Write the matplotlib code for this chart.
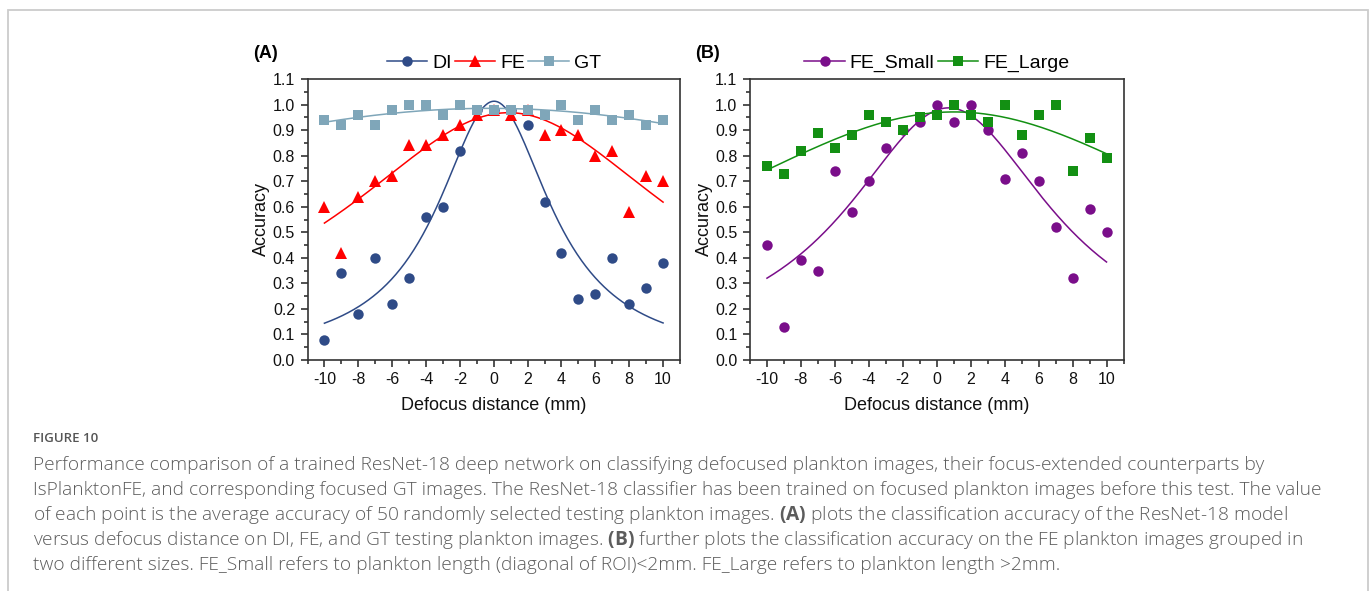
import numpy as np
import matplotlib.pyplot as plt
from matplotlib.lines import Line2D
from matplotlib.patches import Rectangle

plt.rcParams['font.family'] = ['Liberation Sans', 'DejaVu Sans']
plt.rcParams['axes.unicode_minus'] = False
plt.rcParams['mathtext.fontset'] = 'custom'
plt.rcParams['mathtext.rm'] = 'Open Sans'
plt.rcParams['mathtext.bf'] = 'Open Sans:bold'

# defocus distance (mm)
x = np.arange(-10, 11)

# panel A
di = [0.08, 0.34, 0.18, 0.40, 0.22, 0.32, 0.56, 0.60, 0.82, 0.98, 0.98,
      0.98, 0.92, 0.62, 0.42, 0.24, 0.26, 0.40, 0.22, 0.28, 0.38]
fe = [0.60, 0.42, 0.64, 0.70, 0.72, 0.84, 0.84, 0.88, 0.92, 0.96, 0.98,
      0.96, 0.98, 0.88, 0.90, 0.88, 0.80, 0.82, 0.58, 0.72, 0.70]
gt = [0.94, 0.92, 0.96, 0.92, 0.98, 1.00, 1.00, 0.96, 1.00, 0.98, 0.98,
      0.98, 0.98, 0.96, 1.00, 0.94, 0.98, 0.94, 0.96, 0.92, 0.94]

# panel B
fe_small = [0.45, 0.13, 0.39, 0.35, 0.74, 0.58, 0.70, 0.83, 0.90, 0.93, 1.00,
            0.93, 1.00, 0.90, 0.71, 0.81, 0.70, 0.52, 0.32, 0.59, 0.50]
fe_large = [0.76, 0.73, 0.82, 0.89, 0.83, 0.88, 0.96, 0.93, 0.90, 0.95, 0.96,
            1.00, 0.96, 0.93, 1.00, 0.88, 0.96, 1.00, 0.74, 0.87, 0.79]

caption_head = 'FIGURE 10'
caption = [
    'Performance comparison of a trained ResNet-18 deep network on classifying defocused plankton images, their focus-extended counterparts by',
    'IsPlanktonFE, and corresponding focused GT images. The ResNet-18 classifier has been trained on focused plankton images before this test. The value',
    r'of each point is the average accuracy of 50 randomly selected testing plankton images. $\mathbf{(A)}$ plots the classification accuracy of the ResNet-18 model',
    r'versus defocus distance on DI, FE, and GT testing plankton images. $\mathbf{(B)}$ further plots the classification accuracy on the FE plankton images grouped in',
    'two different sizes. FE_Small refers to plankton length (diagonal of ROI)<2mm. FE_Large refers to plankton length >2mm.',
]


def lorentz_fit(xs, ys):
    # least squares fit of y = A / (1 + ((x - xc) / g)^2)
    xs = np.asarray(xs, float)
    ys = np.asarray(ys, float)
    xc = np.arange(-3, 3.001, 0.02)[:, None, None]
    g = np.geomspace(0.5, 300, 900)[None, :, None]
    f = 1.0 / (1.0 + ((xs[None, None, :] - xc) / g) ** 2)
    a = (f * ys).sum(-1) / (f * f).sum(-1)
    sse = ((ys - a[..., None] * f) ** 2).sum(-1)
    i, j = np.unravel_index(np.argmin(sse), sse.shape)
    xc0, g0, a0 = xc[i, 0, 0], g[0, j, 0], a[i, j]
    return lambda t: a0 / (1.0 + ((t - xc0) / g0) ** 2)


fig = plt.figure(figsize=(13.72, 5.91), dpi=100)
fig.patches.append(Rectangle((8 / 1372, -0.05), 1360 / 1372, 1 - 10 / 591 + 0.05,
                             transform=fig.transFigure, fill=False,
                             edgecolor='#cccccc', linewidth=1.3))

axA = fig.add_axes([307.5 / 1372, 231 / 591, 372.5 / 1372, 281 / 591])
axB = fig.add_axes([750 / 1372, 231 / 591, 373.5 / 1372, 281 / 591])

xf = np.linspace(-10, 10, 300)
seriesA = [('DI', di, '#2f4b87', 'o', 7.5),
           ('FE', fe, '#ff0000', '^', 8),
           ('GT', gt, '#7fa6b9', 's', 6.5)]
seriesB = [('FE_Small', fe_small, '#7a0e8a', 'o', 7.5),
           ('FE_Large', fe_large, '#139013', 's', 6.5)]

for ax, series in [(axA, seriesA), (axB, seriesB)]:
    handles = []
    for name, ys, c, m, ms in series:
        ax.plot(x, ys, linestyle='none', marker=m, markersize=ms, color=c,
                markeredgewidth=0)
        ax.plot(xf, lorentz_fit(x, ys)(xf), color=c, linewidth=1.1)
        handles.append(Line2D([], [], color=c, marker=m, markersize=ms,
                              markeredgewidth=0, linewidth=1.1, label=name))
    ax.set_xlim(-11, 11)
    ax.set_ylim(0, 1.1)
    ax.set_xticks(np.arange(-10, 11, 2))
    ax.set_xticks(np.arange(-11, 12, 1), minor=True)
    ax.set_yticks(np.arange(0, 1.11, 0.1))
    ax.set_yticks(np.arange(0, 1.11, 0.05), minor=True)
    ax.set_yticklabels([f'{v:.1f}' for v in np.arange(0, 1.11, 0.1)])
    ax.tick_params(which='both', direction='out', color='#333333', width=1.2,
                   labelsize=11.5, labelcolor='#111111')
    ax.tick_params(which='major', length=5, pad=4)
    ax.tick_params(which='minor', length=3)
    for s in ax.spines.values():
        s.set_linewidth(1.2)
        s.set_color('#333333')
    ax.set_xlabel('Defocus distance (mm)', fontsize=13, color='#111111', labelpad=7)
    ax.set_ylabel('Accuracy', fontsize=13, color='#111111')
    ax.yaxis.set_label_coords(-0.1, 0.5)
    ax.legend(handles=handles, loc='lower center', bbox_to_anchor=(0.5, 0.99),
              ncol=len(handles), frameon=False, fontsize=14, handlelength=2.1,
              handletextpad=0.25, columnspacing=0.15, borderaxespad=0.1)

fig.text(253 / 1372, 1 - 54 / 591, '(A)', fontsize=13, fontweight='bold',
         ha='left', va='center')
fig.text(695 / 1372, 1 - 54 / 591, '(B)', fontsize=13, fontweight='bold',
         ha='left', va='center')

fig.text(33 / 1372, 1 - 438 / 591, caption_head, fontsize=9.5, color='#555555',
         family='Open Sans', fontweight='semibold', ha='left', va='center')
for k, line in enumerate(caption):
    fig.text(33 / 1372, 1 - (465 + 25 * k) / 591, line, fontsize=13.8,
             color='#5c5c5c', family='Open Sans', fontweight='light',
             ha='left', va='center')

fig.savefig('out.png', dpi=100)
